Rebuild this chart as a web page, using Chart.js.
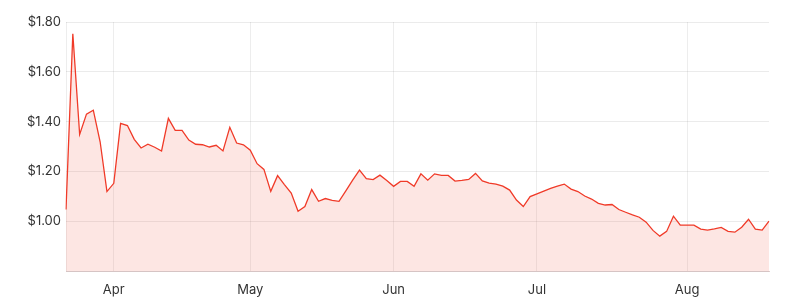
<!DOCTYPE html>
<html>
<head>
<meta charset="utf-8">
<script src="https://cdn.jsdelivr.net/npm/chart.js@4.4.1/dist/chart.umd.min.js"></script>
<style>
  html, body { margin: 0; padding: 0; background: #ffffff; }
  #wrap { width: 794px; height: 307px; position: relative; }
</style>
</head>
<body>
<div id="wrap"><canvas id="c"></canvas></div>
<script>
const dates = [
  '2021-03-23','2021-03-24','2021-03-25','2021-03-26','2021-03-29','2021-03-30','2021-03-31',
  '2021-04-01','2021-04-06','2021-04-07','2021-04-08','2021-04-09','2021-04-12','2021-04-13','2021-04-14','2021-04-15','2021-04-16',
  '2021-04-19','2021-04-20','2021-04-21','2021-04-22','2021-04-23','2021-04-26','2021-04-27','2021-04-28','2021-04-29','2021-04-30',
  '2021-05-03','2021-05-04','2021-05-05','2021-05-06','2021-05-07','2021-05-10','2021-05-11','2021-05-12','2021-05-13','2021-05-14',
  '2021-05-17','2021-05-18','2021-05-19','2021-05-20','2021-05-21','2021-05-24','2021-05-25','2021-05-26','2021-05-27','2021-05-28','2021-05-31',
  '2021-06-01','2021-06-02','2021-06-03','2021-06-04','2021-06-07','2021-06-08','2021-06-09','2021-06-10','2021-06-11',
  '2021-06-15','2021-06-16','2021-06-17','2021-06-18','2021-06-21','2021-06-22','2021-06-23','2021-06-24','2021-06-25',
  '2021-06-28','2021-06-29','2021-06-30',
  '2021-07-01','2021-07-02','2021-07-05','2021-07-06','2021-07-07','2021-07-08','2021-07-09','2021-07-12','2021-07-13','2021-07-14',
  '2021-07-15','2021-07-16','2021-07-19','2021-07-20','2021-07-21','2021-07-22','2021-07-23','2021-07-26','2021-07-27','2021-07-28',
  '2021-07-29','2021-07-30',
  '2021-08-02','2021-08-03','2021-08-04','2021-08-05','2021-08-06','2021-08-09','2021-08-10','2021-08-11','2021-08-12','2021-08-13',
  '2021-08-16','2021-08-17','2021-08-18'
];

const prices = [
  1.047, 1.753, 1.348, 1.430, 1.446, 1.319, 1.119,
  1.152, 1.393, 1.384, 1.329, 1.294, 1.309, 1.297, 1.282, 1.413, 1.365,
  1.365, 1.326, 1.309, 1.307, 1.298, 1.305, 1.282, 1.377, 1.314, 1.307,
  1.285, 1.231, 1.208, 1.120, 1.183, 1.147, 1.113, 1.040, 1.059, 1.127,
  1.080, 1.091, 1.084, 1.080, 1.122, 1.165, 1.205, 1.171, 1.167, 1.185, 1.163,
  1.140, 1.160, 1.160, 1.140, 1.190, 1.165, 1.190, 1.184, 1.184,
  1.161, 1.164, 1.168, 1.192, 1.162, 1.153, 1.149, 1.141, 1.125,
  1.085, 1.059, 1.099,
  1.110, 1.121, 1.132, 1.141, 1.149, 1.129, 1.119, 1.101, 1.089, 1.072,
  1.065, 1.067, 1.047, 1.036, 1.025, 1.016, 0.996, 0.963, 0.940, 0.959,
  1.020, 0.984,
  0.984, 0.984, 0.968, 0.964, 0.969, 0.975, 0.959, 0.956, 0.976, 1.008,
  0.968, 0.964, 1.000
];

const monthNames = ['Jan','Feb','Mar','Apr','May','Jun','Jul','Aug','Sep','Oct','Nov','Dec'];
const yMin = 0.8, yMax = 1.8, yStep = 0.2;

function monthOf(i) { return parseInt(dates[i].slice(5, 7), 10); }
function isMonthStart(i) { return i > 0 && monthOf(i) !== monthOf(i - 1); }

const FONT = "Inter, 'Open Sans', sans-serif";

new Chart(document.getElementById('c'), {
  type: 'line',
  data: {
    labels: dates,
    datasets: [{
      data: prices,
      borderColor: 'rgb(240, 58, 40)',
      backgroundColor: 'rgba(244, 75, 60, 0.14)',
      borderWidth: 1.3,
      fill: 'start',
      pointRadius: 0,
      tension: 0
    }]
  },
  options: {
    responsive: true,
    maintainAspectRatio: false,
    animation: false,
    layout: { padding: { top: 22, right: 25, left: 0, bottom: 0 } },
    plugins: { legend: { display: false }, tooltip: { enabled: false } },
    scales: {
      x: {
        type: 'category',
        offset: false,
        afterFit: s => { s.height = 36; },
        border: { display: true, color: 'rgba(200,170,170,0.6)' },
        grid: {
          drawTicks: false,
          color: ctx => (ctx.index === 0 || isMonthStart(ctx.index)) ? 'rgba(0,0,0,0.07)' : 'rgba(0,0,0,0)'
        },
        ticks: {
          autoSkip: false,
          maxRotation: 0,
          padding: 11,
          color: '#333',
          font: { family: FONT, size: 13 },
          callback: function(value, index) {
            return isMonthStart(index) ? monthNames[monthOf(index) - 1] : '';
          }
        }
      },
      y: {
        min: yMin,
        max: yMax,
        afterFit: s => { s.width = 66; },
        border: { display: false },
        grid: { drawTicks: false, color: 'rgba(0,0,0,0.08)' },
        ticks: {
          stepSize: yStep,
          padding: 5,
          color: '#333',
          font: { family: FONT, size: 13 },
          callback: v => Math.abs(v - yMin) < 1e-6 ? '' : '$' + v.toFixed(2)
        }
      }
    }
  }
});
</script>
</body>
</html>
